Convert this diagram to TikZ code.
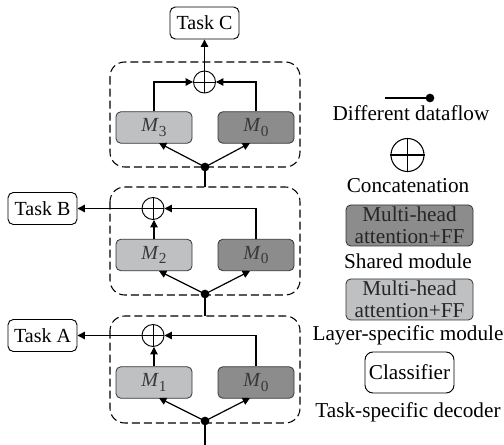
\documentclass[tikz,border=0pt]{standalone}
\usepackage{fontspec}
\setmainfont{Liberation Serif}
\newfontfamily\tnr{Liberation Serif}
\usetikzlibrary{arrows.meta}
\definecolor{darkmod}{HTML}{8C8C8C}
\definecolor{lightmod}{HTML}{BFC0C2}
\definecolor{modtext}{HTML}{383838}
\newcommand{\mlabel}[1]{\textit{M}\raisebox{-0.45ex}{\fontsize{11.5}{12}\selectfont #1}}
\begin{document}
\begin{tikzpicture}[x=0.75pt,y=-0.75pt,
  every node/.style={font=\tnr\fontsize{15}{17}\selectfont},
  line/.style={line width=0.9pt},
  arr/.style={line width=0.9pt,-{Triangle[length=5.5pt,width=5.5pt]}},
  grp/.style={line width=0.8pt,dash pattern=on 6pt off 3pt,rounded corners=11pt},
  modbox/.style={draw=black!80,line width=0.6pt,rounded corners=3.5pt,minimum width=57pt,minimum height=23.5pt,inner sep=0pt,text=modtext},
  lightbox/.style={modbox,fill=lightmod},
  darkbox/.style={modbox,fill=darkmod},
  taskbox/.style={draw,line width=0.7pt,rounded corners=4pt,minimum width=51.75pt,minimum height=24pt,inner sep=0pt},
  cat/.style={circle,draw,line width=0.7pt,minimum size=16.5pt,inner sep=0pt},
  dotn/.style={circle,fill,minimum size=6.5pt,inner sep=0pt},
  legtext/.style={align=center,inner sep=0pt,font=\tnr\fontsize{15.9}{17}\selectfont},
  legbox/.style={minimum width=95.25pt,minimum height=30.75pt,align=center,text=black!85,font=\tnr\fontsize{15.9}{16.5}\selectfont},
]
\useasboundingbox (0,0) rectangle (504,445);

% ---------- top group (Task C) ----------
\draw[grp] (110,62) rectangle (300,167);
\node[taskbox] (tc) at (204.5,23) {Task C};
\node[cat] (c3) at (204.5,82) {};
\draw[line width=0.7pt] (c3.north)--(c3.south) (c3.east)--(c3.west);
\node[lightbox] (m3) at (154,127.5) {\mlabel{3}};
\node[darkbox] (m03) at (256,127.5) {\mlabel{0}};
\node[dotn] (d3) at (205,167) {};
\draw[arr] (m3.north) |- (c3.west);
\draw[arr] (m03.north) |- (c3.east);
\draw[arr] (c3.north) -- (tc.south);
\draw[arr] (d3.center) -- (159,143);
\draw[arr] (d3.center) -- (250,143);
\coordinate (t3) at (205,187);
\draw[line] (d3.center) -- (t3);

% ---------- middle group (Task B) ----------
\draw[grp] (110,187) rectangle (300,295);
\node[taskbox] (tb) at (42.5,208.5) {Task B};
\node[cat] (c2) at (153,208.5) {};
\draw[line width=0.7pt] (c2.north)--(c2.south) (c2.east)--(c2.west);
\node[lightbox] (m2) at (154,255) {\mlabel{2}};
\node[darkbox] (m02) at (256,255) {\mlabel{0}};
\node[dotn] (d2) at (205,294) {};
\draw[arr] (m2.north) -- (m2.north |- c2.south);
\draw[arr] (m02.north) |- (c2.east);
\draw[arr] (c2.west) -- (tb.east);
\draw[arr] (d2.center) -- (159,271);
\draw[arr] (d2.center) -- (250,271);
\coordinate (t2) at (205,316);
\draw[line] (d2.center) -- (t2);

% ---------- bottom group (Task A) ----------
\draw[grp] (110,316) rectangle (300,423);
\node[taskbox] (ta) at (42.5,335.5) {Task A};
\node[cat] (c1) at (153,335.5) {};
\draw[line width=0.7pt] (c1.north)--(c1.south) (c1.east)--(c1.west);
\node[lightbox] (m1) at (154,382.5) {\mlabel{1}};
\node[darkbox] (m01) at (256,382.5) {\mlabel{0}};
\node[dotn] (d1) at (205,421) {};
\draw[arr] (m1.north) -- (m1.north |- c1.south);
\draw[arr] (m01.north) |- (c1.east);
\draw[arr] (c1.west) -- (ta.east);
\draw[arr] (d1.center) -- (159,398);
\draw[arr] (d1.center) -- (250,398);
\coordinate (inp) at (205,445);
\draw[line] (d1.center) -- (inp);

% ---------- legend ----------
\coordinate (lg0) at (385,98);
\node[dotn] (lgd) at (430,98) {};
\draw[line] (lg0) -- (lgd.center);
\node[legtext] (l1) at (411,113) {Different dataflow};
\node[cat,minimum size=24.75pt,line width=0.8pt] (lgc) at (407.5,155) {};
\draw[line width=0.8pt] (lgc.north)--(lgc.south) (lgc.east)--(lgc.west);
\node[legtext] (l2) at (408,186) {Concatenation};
\node[darkbox,legbox] (lgdark) at (409.5,225.5) {Multi-head\\attention+FF};
\node[legtext] (l3) at (408,261) {Shared module};
\node[lightbox,legbox] (lglight) at (409.5,299.5) {Multi-head\\attention+FF};
\node[legtext] (l4) at (408,335) {Layer-specific module};
\node[taskbox,minimum width=66.75pt,minimum height=30.75pt,rounded corners=6pt,font=\tnr\fontsize{15.9}{17}\selectfont] (lgcls) at (409.5,372.5) {Classifier};
\node[legtext] (l5) at (408,412) {Task-specific decoder};
\end{tikzpicture}
\end{document}
